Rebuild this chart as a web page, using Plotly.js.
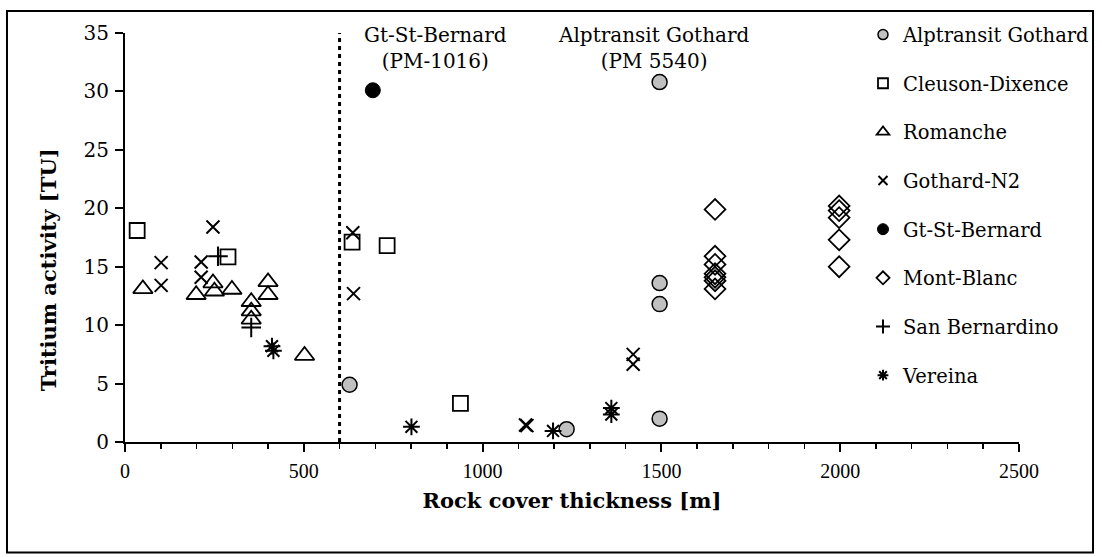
<!DOCTYPE html>
<html>
<head>
<meta charset="utf-8">
<script src="https://cdn.plot.ly/plotly-3.0.1.min.js"></script>
<style>html,body{margin:0;padding:0;background:#fff;}</style>
</head>
<body>
<div id="chart" style="width:1102px;height:557px;"></div>
<script>
// Data (rock cover thickness [m], tritium activity [TU])
const alpX = [628, 1495, 1495, 1495, 1495, 1235];
const alpY = [4.9, 30.8, 13.6, 11.8, 2.0, 1.1];
const cleX = [34, 288, 635, 733, 938];
const cleY = [18.1, 15.85, 17.1, 16.8, 3.3];
const romX = [50, 199, 246, 250, 299, 353, 353, 353, 400, 400, 502];
const romY = [13.1, 12.6, 13.6, 12.9, 13.05, 12.0, 11.2, 10.5, 13.7, 12.6, 7.4];
const gotX = [101, 101, 213, 213, 246, 637, 639, 1120, 1124, 1421, 1421];
const gotY = [15.35, 13.4, 15.4, 14.1, 18.4, 17.9, 12.7, 1.45, 1.4, 7.5, 6.65];
const gsbX = [693];
const gsbY = [30.1];
const monX = [1650, 1650, 1650, 1650, 1650, 1650, 1650, 1997, 1997, 1997, 1997, 1997];
const monY = [19.9, 15.9, 15.2, 14.4, 14.1, 13.8, 13.1, 20.2, 19.8, 19.2, 17.3, 15.0];
const sbeX = [260, 353];
const sbeY = [15.9, 9.8];
const verX = [411, 415, 801, 1197, 1360, 1360];
const verY = [8.2, 7.8, 1.3, 0.95, 2.9, 2.35];
const names = ["Alptransit Gothard", "Cleuson-Dixence", "Romanche", "Gothard-N2",
  "Gt-St-Bernard", "Mont-Blanc", "San Bernardino", "Vereina"];
const xTicks = [0, 500, 1000, 1500, 2000, 2500];
const yTicks = [0, 5, 10, 15, 20, 25, 30, 35];
const divider = 600;

const FS = "Liberation Serif";
const FD = "DejaVu Serif";
const markers = [
  {symbol: 'circle', size: 15, color: '#c0c0c0', line: {color: '#000', width: 1.5}},
  {symbol: 'square-open', size: 15, color: '#000', line: {width: 1.8}},
  {symbol: 'triangle-up-open', size: 17, color: '#000', line: {width: 1.8}},
  {symbol: 'x-thin-open', size: 13, color: '#000', line: {width: 2, color: '#000'}},
  {symbol: 'circle', size: 15, color: '#000', line: {color: '#000', width: 1}},
  {symbol: 'diamond-open', size: 16, color: '#000', line: {width: 1.8}},
  {symbol: 'cross-thin-open', size: 14, color: '#000', line: {width: 2, color: '#000'}},
  {symbol: 'asterisk-open', size: 14, color: '#000', line: {width: 2, color: '#000'}}
];
const legendSizes = [10, 10, 11, 9, 11, 10, 10, 9];
const series = [[alpX, alpY], [cleX, cleY], [romX, romY], [gotX, gotY],
  [gsbX, gsbY], [monX, monY], [sbeX, sbeY], [verX, verY]];

const data = [];
series.forEach((s, i) => {
  data.push({type: 'scatter', mode: 'markers', name: names[i], x: s[0], y: s[1],
    marker: markers[i], showlegend: false, cliponaxis: false});
});
// legend entries (smaller symbols, as in the original legend)
series.forEach((s, i) => {
  const m = JSON.parse(JSON.stringify(markers[i]));
  m.size = legendSizes[i];
  data.push({type: 'scatter', mode: 'markers', name: names[i], x: [null], y: [null],
    marker: m, legendgroup: 'g' + i, showlegend: true});
});

const layout = {
  width: 1102, height: 557,
  margin: {l: 125, r: 83, t: 33, b: 115, pad: 0, autoexpand: false},
  paper_bgcolor: '#fff', plot_bgcolor: '#fff',
  font: {family: FD, size: 19, color: '#000'},
  showlegend: true,
  legend: {x: 0.8255, xanchor: 'left', y: 1.043, yanchor: 'top', traceorder: 'grouped',
    tracegroupgap: 20.3, font: {family: FD, size: 19.5, color: '#000'}, maxheight: 600,
    itemsizing: 'trace', bgcolor: 'rgba(0,0,0,0)', itemwidth: 30},
  xaxis: {range: [0, 2500], tickvals: xTicks, showgrid: false, zeroline: false,
    showline: true, linecolor: '#000', linewidth: 2, ticks: 'outside', ticklen: 8, tickwidth: 2,
    tickcolor: '#000', ticklabelstandoff: 2, tickfont: {family: FS, size: 20},
    minor: {dtick: 100, ticks: 'outside', ticklen: 5, tickwidth: 1.5, tickcolor: '#000', showgrid: false},
    title: {text: '<b>Rock cover thickness [m]</b>', font: {family: FD, size: 21}, standoff: 12}},
  yaxis: {range: [0, 35], tickvals: yTicks, showgrid: false, zeroline: false,
    showline: true, linecolor: '#000', linewidth: 2, ticks: 'outside', ticklen: 8, tickwidth: 2,
    tickcolor: '#000', ticklabelstandoff: 2, tickfont: {family: FD, size: 20}},
  shapes: [
    {type: 'line', xref: 'x', yref: 'y', x0: divider, x1: divider, y0: 0, y1: 35,
      line: {color: '#000', width: 3, dash: '4px,4px'}},
    {type: 'rect', xref: 'paper', yref: 'paper', x0: -0.1320, x1: 1.0828, y0: -0.27, y1: 1.0538,
      line: {color: '#000', width: 2}, fillcolor: 'rgba(0,0,0,0)', layer: 'below'}
  ],
  annotations: [
    {xref: 'paper', yref: 'paper', x: -0.0861, y: 0.42, xanchor: 'center', yanchor: 'middle',
      showarrow: false, textangle: -90, text: '<b>Tritium activity [TU]</b>',
      font: {family: FD, size: 21}},
    {xref: 'x', yref: 'paper', x: 867, y: 0.963, yanchor: 'middle', showarrow: false, align: 'center',
      text: 'Gt-St-Bernard<br>(PM-1016)', font: {family: FD, size: 20}},
    {xref: 'x', yref: 'paper', x: 1479, y: 0.963, yanchor: 'middle', showarrow: false, align: 'center',
      text: 'Alptransit Gothard<br>(PM 5540)', font: {family: FD, size: 20}}
  ]
};
Plotly.newPlot('chart', data, layout, {displayModeBar: false, staticPlot: true});
</script>
</body>
</html>
